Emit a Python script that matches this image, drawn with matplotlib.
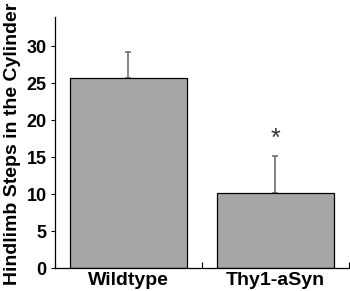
import matplotlib
matplotlib.use('Agg')
import matplotlib.pyplot as plt

plt.rcParams['font.family'] = ['Liberation Sans', 'DejaVu Sans']

groups = ['Wildtype', 'Thy1-aSyn']
means = [25.7, 10.2]
errors = [3.6, 5.0]
stars = ['', '*']

fig = plt.figure(figsize=(3.5, 2.91), dpi=100)
ax = fig.add_axes([0.157, 0.079, 0.84, 0.863])

x = [0, 1]
ax.bar(x, means, width=0.8, color='#a6a6a6', edgecolor='black', linewidth=0.9, zorder=2)
ax.errorbar(x, means, yerr=[[0, 0], errors], fmt='none', ecolor='#6e6e6e',
            elinewidth=1.2, capsize=2.5, capthick=1.2, zorder=1)
for xi, m, e, s in zip(x, means, errors, stars):
    if s:
        ax.text(xi, m + e + 0.6, s, ha='center', va='bottom', fontsize=18, color='#333333')

ax.set_xlim(-0.5, 1.5)
ax.set_ylim(0, 34)
ax.set_yticks([0, 5, 10, 15, 20, 25, 30])
ax.set_xticks([-0.5, 0.5, 1.5])
ax.set_xticklabels([])
ax.set_xticks(x, minor=True)
ax.set_xticklabels(groups, minor=True, fontsize=14, fontweight='bold')
ax.tick_params(axis='x', which='major', direction='in', length=4, width=0.8)
ax.tick_params(axis='x', which='minor', length=0, pad=3)
ax.tick_params(axis='y', direction='out', length=3, width=0.8, labelsize=13, pad=3)
for lab in ax.get_yticklabels():
    lab.set_fontweight('bold')

ax.spines['top'].set_visible(False)
ax.spines['right'].set_visible(False)
ax.spines['left'].set_linewidth(0.9)
ax.spines['bottom'].set_linewidth(0.9)

fig.text(0.036, 0.505, 'Hindlimb Steps in the Cylinder', rotation=90, ha='center', va='center',
         fontsize=14, fontweight='bold')

fig.savefig('out.png', dpi=100)
